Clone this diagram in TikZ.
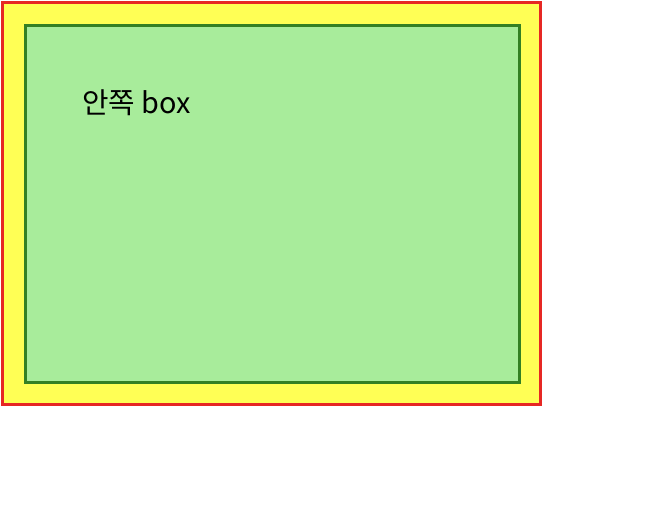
\documentclass[tikz,border=0pt]{standalone}
\usepackage{fontspec}
\newfontfamily\cjk{Noto Sans CJK KR}
\usetikzlibrary{positioning}
\definecolor{outerred}{RGB}{230,40,36}
\definecolor{outeryellow}{RGB}{255,255,85}
\definecolor{innergreen}{RGB}{168,236,155}
\definecolor{innerborder}{RGB}{52,128,36}

\begin{document}
\begin{tikzpicture}[x=1pt,y=-1pt]
\useasboundingbox (0,0) rectangle (668,518);
% Outer box
\draw[outerred, line width=3pt, fill=outeryellow] (2.5,2.5) rectangle (540.5,404.5);

% Inner box
\draw[innerborder, line width=2.6pt, fill=innergreen] (25.3,25.3) rectangle (519.3,382.3);
\node[font=\cjk\fontsize{28.8}{33}\selectfont, inner sep=0pt, anchor=base west] (label) at (82,114) {안쪽 box};
\end{tikzpicture}
\end{document}
